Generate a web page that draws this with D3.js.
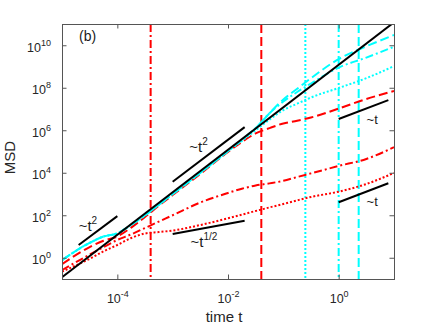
<!DOCTYPE html>
<html>
<head>
<meta charset="utf-8">
<script src="https://cdn.jsdelivr.net/npm/d3@7"></script>
<style>
  body { margin: 0; background: #fff; }
  svg { font-family: "Liberation Sans", Arial, Helvetica, sans-serif; }
</style>
</head>
<body>
<svg id="chart"></svg>
<script>
// time grid shared by the simulated curves
const times = [1e-5, 3.16e-5, 5.62e-5, 1e-4, 1.78e-4, 3.16e-4, 5.62e-4, 1e-3, 3.16e-3, 1e-2,
  1.78e-2, 3.16e-2, 5.62e-2, 0.1, 0.178, 0.316, 1, 3.16, 10];

// log10(MSD) at those times
const redDotted = [-0.65, -0.05, 0.3, 0.6, 0.93, 1.14, 1.21, 1.28, 1.54, 1.86, 2.03, 2.2, 2.37, 2.53, 2.7, 2.86, 3.11, 3.47, 3.99];
const redDashDot = [-0.58, 0.15, 0.5, 0.84, 1.1, 1.4, 1.7, 2.0, 2.6, 3.05, 3.25, 3.4, 3.5, 3.62, 3.8, 3.97, 4.32, 4.65, 5.2];
const redDashed = [-0.3, 0.5, 0.8, 1.0, 1.42, 1.92, 2.45, 2.95, 3.95, 4.98, 5.45, 5.85, 6.1, 6.32, 6.45, 6.6, 7.02, 7.47, 7.85];
const cyanDotted = [-0.11, 0.7, 1.0, 1.15, 1.55, 2.0, 2.5, 3.0, 4.0, 5.02, 5.5, 6.0, 6.5, 6.95, 7.25, 7.54, 7.99, 8.45, 9.02];
const cyanDashDot = [-0.11, 0.7, 1.0, 1.15, 1.55, 2.0, 2.5, 3.0, 4.0, 5.02, 5.55, 6.1, 6.8, 7.35, 7.8, 8.2, 8.95, 9.42, 9.93];
const cyanDashed = [-0.11, 0.7, 1.0, 1.15, 1.55, 2.0, 2.5, 3.0, 4.0, 5.02, 5.55, 6.1, 6.8, 7.45, 7.95, 8.45, 9.35, 9.95, 10.48];

// ballistic reference (black solid)
const ballisticTimes = [1e-5, 10];
const ballisticMsd = [0.12, 1.2e11];

// vertical marker times
const markerTimes = [4.0e-4, 0.04, 0.25, 1, 2.3];

// short slope guides
const guideTimes = [[2.0e-5, 1e-4], [1e-3, 2e-2], [1e-3, 2e-2], [1, 7.9], [1, 7.9]];
const guideMsd = [[4.0, 91], [3800, 1.4e6], [13, 55], [3.4e6, 2.6e7], [410, 3200]];
const guideExps = ['2', '2', '1/2', '', ''];

const xTicks = [1e-4, 1e-2, 1];
const yTicks = [1, 1e2, 1e4, 1e6, 1e8, 1e10];

class MsdChart {
    constructor(_config) {
        this.config = {
            parentElement: _config.parentElement,
            containerWidth: _config.containerWidth || 436,
            containerHeight: _config.containerHeight || 327,
        }
        this.config.margin = _config.margin || { top: 24, bottom: 48, right: 42, left: 62 }
        this.initVis();
    }

    initVis() {
        let vis = this;
        let m = vis.config.margin;

        vis.width = vis.config.containerWidth - m.left - m.right;
        vis.height = vis.config.containerHeight - m.top - m.bottom;

        vis.svg = d3.select(vis.config.parentElement)
            .attr("width", vis.config.containerWidth)
            .attr("height", vis.config.containerHeight);
        vis.chart = vis.svg.append("g").attr('transform', `translate(${m.left},${m.top})`);

        vis.xScale = d3.scaleLog().domain([1e-5, 10]).range([0, vis.width]);
        vis.yScale = d3.scaleLog().domain([0.1, 1e11]).range([vis.height, 0]);

        vis.chart.append("clipPath").attr("id", "plotClip")
            .append("rect").attr("width", vis.width).attr("height", vis.height);

        vis.lines = vis.chart.append("g").attr("clip-path", "url(#plotClip)");

        vis.render();
    }

    render() {
        let vis = this;
        let line = d3.line()
            .x(d => vis.xScale(d[0]))
            .y(d => vis.yScale(d[1]))
            .curve(d3.curveMonotoneX);

        // vertical markers
        let markerStyle = [
            { color: "#ff0000", dash: "8,3,2,3" },
            { color: "#ff0000", dash: "9,4" },
            { color: "#00ffff", dash: "2,2" },
            { color: "#00ffff", dash: "8,3,2,3" },
            { color: "#00ffff", dash: "9,4" },
        ];
        vis.lines.selectAll(".marker").data(markerTimes).enter().append("line")
            .attr("class", "marker")
            .attr("x1", d => vis.xScale(d))
            .attr("x2", d => vis.xScale(d))
            .attr("y1", 0)
            .attr("y2", vis.height)
            .attr("stroke", (d, i) => markerStyle[i].color)
            .attr("stroke-width", 2)
            .attr("stroke-dasharray", (d, i) => markerStyle[i].dash);

        let series = [
            { vals: redDotted, color: "#ff0000", dash: "2,2" },
            { vals: redDashDot, color: "#ff0000", dash: "8,3,2,3" },
            { vals: redDashed, color: "#ff0000", dash: "9,4" },
            { vals: cyanDotted, color: "#00ffff", dash: "2,2" },
            { vals: cyanDashDot, color: "#00ffff", dash: "8,3,2,3" },
            { vals: cyanDashed, color: "#00ffff", dash: "9,4" },
        ];
        vis.lines.selectAll(".curve").data(series).enter().append("path")
            .attr("class", "curve")
            .attr("d", s => line(times.map((t, i) => [t, Math.pow(10, s.vals[i])])))
            .attr("fill", "none")
            .attr("stroke", s => s.color)
            .attr("stroke-width", 2)
            .attr("stroke-dasharray", s => s.dash);

        vis.lines.append("path")
            .attr("d", d3.line().x(d => vis.xScale(d[0])).y(d => vis.yScale(d[1]))(ballisticTimes.map((t, i) => [t, ballisticMsd[i]])))
            .attr("fill", "none")
            .attr("stroke", "#000")
            .attr("stroke-width", 2);

        // slope guides
        vis.chart.selectAll(".guide").data(guideTimes).enter().append("line")
            .attr("class", "guide")
            .attr("x1", (d, i) => vis.xScale(d[0]))
            .attr("x2", (d, i) => vis.xScale(d[1]))
            .attr("y1", (d, i) => vis.yScale(guideMsd[i][0]))
            .attr("y2", (d, i) => vis.yScale(guideMsd[i][1]))
            .attr("stroke", "#000")
            .attr("stroke-width", 2);

        let labelPos = [[2.0e-5, 18, 15], [2.0e-3, 9.5e4, 15], [2.1e-3, 3.2, 15], [3.2, 1.9e6, 13], [3.2, 275, 13]];
        labelPos.forEach((p, i) => {
            let t = vis.chart.append("text")
                .attr("x", vis.xScale(p[0]))
                .attr("y", vis.yScale(p[1]))
                .attr("font-size", p[2])
                .attr("fill", "#1a1a1a");
            t.append("tspan").text("~t");
            if (guideExps[i]) t.append("tspan").attr("dy", -7).attr("font-size", 10).text(guideExps[i]);
        });

        // axes
        let powLabel = g => g.selectAll(".tick text").each(function(d) {
            let txt = d3.select(this).text(null);
            txt.append("tspan").text("10");
            txt.append("tspan").attr("dy", -6).attr("font-size", 9).text(Math.round(Math.log10(d)));
        });

        vis.chart.append("g")
            .attr("transform", `translate(0,${vis.height})`)
            .call(d3.axisBottom(vis.xScale).tickValues(xTicks).tickSize(-4.5).tickSizeOuter(0))
            .call(g => g.select(".domain").remove())
            .call(g => g.selectAll(".tick text").attr("y", 24).attr("dy", null).attr("font-size", 12.5).attr("fill", "#262626"))
            .call(powLabel);

        vis.chart.append("g")
            .call(d3.axisLeft(vis.yScale).tickValues(yTicks).tickSize(-4.5).tickSizeOuter(0))
            .call(g => g.select(".domain").remove())
            .call(g => g.selectAll(".tick text").attr("x", -11).attr("y", 6).attr("dy", null).attr("font-size", 12.5).attr("fill", "#262626"))
            .call(powLabel);

        vis.chart.append("g")
            .call(d3.axisTop(vis.xScale).tickValues(xTicks).tickSize(-4.5).tickSizeOuter(0).tickFormat(""))
            .call(g => g.select(".domain").remove());

        vis.chart.append("g")
            .attr("transform", `translate(${vis.width},0)`)
            .call(d3.axisRight(vis.yScale).tickValues(yTicks).tickSize(-4.5).tickSizeOuter(0).tickFormat(""))
            .call(g => g.select(".domain").remove());

        vis.chart.selectAll(".tick line").attr("stroke", "#555");

        vis.chart.append("rect")
            .attr("x", 0.5)
            .attr("y", 0.5)
            .attr("width", vis.width)
            .attr("height", vis.height)
            .attr("fill", "none")
            .attr("stroke", "#555")
            .attr("stroke-width", 1);

        vis.chart.append("text")
            .attr("x", vis.width / 2 - 4)
            .attr("y", vis.height + 43)
            .attr("text-anchor", "middle")
            .attr("font-size", 15)
            .attr("fill", "#262626")
            .text("time t");

        vis.chart.append("text")
            .attr("transform", `translate(${15 - 62},${vis.height / 2 + 6}) rotate(-90)`)
            .attr("text-anchor", "middle")
            .attr("font-size", 15)
            .attr("fill", "#262626")
            .text("MSD");

        vis.chart.append("text")
            .attr("x", 17)
            .attr("y", 16.5)
            .attr("font-size", 14)
            .attr("fill", "#1a1a1a")
            .text("(b)");
    }
}

new MsdChart({ parentElement: "#chart" });
</script>
</body>
</html>
